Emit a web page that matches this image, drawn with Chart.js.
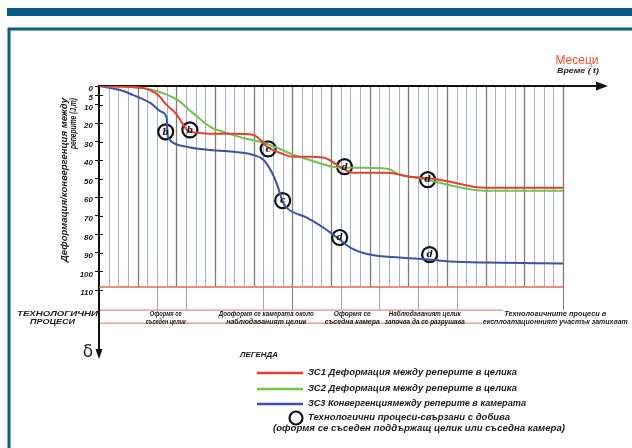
<!DOCTYPE html>
<html>
<head>
<meta charset="utf-8">
<script src="https://cdn.jsdelivr.net/npm/chart.js@4/dist/chart.umd.min.js"></script>
<style>
  html, body { margin: 0; padding: 0; background: #fff; }
  #wrap { width: 632px; height: 448px; position: relative; }
</style>
</head>
<body>
<div id="wrap"><canvas id="c" width="632" height="448"></canvas></div>
<script>
// Time axis: months, grid every month, heavier line every 4th
const monthCount = 48;
const yTicks = [0, 5, 10, 20, 30, 40, 50, 60, 70, 80, 90, 100, 110];
const yMax = 110;
const bandLimit = 108.4;

// ЗС1 – deformation between benchmarks in the pillar (red)
const zs1Months = [0, 4.5, 6.1, 7.0, 7.9, 8.6, 9.1, 10.4, 12.2, 13.9, 15.9, 16.7, 17.4, 18.7, 20.1, 22.1, 23.6, 24.6, 26.3, 29.8, 32.2, 34.6, 36.3, 38.7, 40.1, 48];
const zs1Values = [0, 1.1, 4.8, 10.2, 14.5, 19.9, 23.7, 25.3, 25.8, 25.8, 26.3, 29.0, 32.8, 36.0, 38.2, 38.2, 39.2, 42.5, 46.8, 46.8, 48.9, 50.0, 51.6, 54.3, 54.8, 54.8];

// ЗС2 – deformation between benchmarks in the pillar (green)
const zs2Months = [0, 4.5, 6.3, 8.1, 9.7, 11.5, 13.2, 14.9, 16.7, 18.4, 20.1, 22.1, 24.2, 26.3, 29.8, 31.1, 32.9, 35.3, 37.0, 38.7, 40.1, 48];
const zs2Values = [0, 1.1, 3.2, 7.5, 14.5, 22.0, 25.3, 28.0, 30.1, 33.3, 37.1, 40.4, 43.5, 44.1, 44.6, 47.8, 49.5, 52.2, 54.3, 55.9, 56.5, 56.5];

// ЗС3 – convergence between benchmarks in the chamber (blue)
const zs3Months = [0, 2.2, 3.5, 5.3, 6.5, 7.0, 7.1, 7.3, 9.1, 11.2, 13.9, 15.9, 17.0, 17.9, 18.5, 19.0, 19.4, 21.5, 23.2, 24.2, 24.9, 26.0, 28.0, 31.1, 34.0, 36.3, 40.1, 48];
const zs3Values = [0, 2.2, 4.8, 9.1, 14.0, 17.2, 26.3, 29.0, 32.8, 34.4, 35.5, 37.1, 39.8, 46.8, 54.3, 62.4, 65.6, 71.0, 76.3, 80.1, 82.8, 87.1, 90.9, 92.5, 93.5, 94.6, 95.2, 95.7];

// Mining events marked on the curves
const eventMonths = [6.9, 9.4, 17.5, 19.0, 25.4, 24.9, 34.0, 34.2];
const eventValues = [24.7, 23.7, 33.9, 61.8, 43.5, 81.7, 50.5, 90.9];
const eventLetters = ['b', 'b', 'c', 'c', 'd', 'd', 'd', 'd'];

// Technological processes strip
const processLineMonths = [6, 9, 17, 20, 25, 29, 33, 37, 48];
const processCentreMonths = [6.9, 17.3, 26.2, 33.7, 47.2];
const processLabels = [
  ['Оформя се', 'съседен целик'],
  ['Дооформя се камерата около', 'наблюдаваният целик'],
  ['Оформя се', 'съседна камера'],
  ['Наблюдаваният целик', 'започва да се разрушава'],
  ['Технологичните процеси в', 'експлоатационният участък затихват']
];
const processWidths = [[32, 40], [95, 80], [37, 55], [72, 80], [102, 145]];

const legendLabels = [
  'ЗС1 Деформация между реперите в целика',
  'ЗС2 Деформация между реперите в целика',
  'ЗС3 Конвергенциямежду реперите в камерата'
];

const RED = '#e5402c', GREEN = '#72c24c', BLUE = '#3b52a6';
const FONT = '"Liberation Sans", Arial, sans-serif';

function pts(xs, ys) { return xs.map((x, i) => ({ x: x, y: ys[i] })); }

// draw text stretched/condensed to a given width
function fitText(ctx, str, x, y, width, font, align, color) {
  ctx.save();
  ctx.font = font;
  ctx.fillStyle = color || '#1a1a1a';
  ctx.textBaseline = 'middle';
  const w = ctx.measureText(str).width;
  const sx = width / w;
  ctx.translate(x, y);
  ctx.scale(sx, 1);
  ctx.textAlign = align || 'center';
  ctx.fillText(str, 0, 0);
  ctx.restore();
}

const decor = {
  id: 'decor',
  beforeDraw(chart) {
    const ctx = chart.ctx;
    ctx.save();
    ctx.fillStyle = '#fff';
    ctx.fillRect(0, 0, chart.width, chart.height);
    // header bar and frame
    ctx.fillStyle = '#065b86';
    ctx.fillRect(7, 8, 625, 8);
    ctx.strokeStyle = '#0b5e8c';
    ctx.lineWidth = 3;
    ctx.beginPath();
    ctx.moveTo(9, 448); ctx.lineTo(9, 29); ctx.lineTo(632, 29);
    ctx.stroke();
    ctx.restore();
  },
  beforeDatasetsDraw(chart) {
    const ctx = chart.ctx, xs = chart.scales.x, ys = chart.scales.y, a = chart.chartArea;
    const redY = ys.getPixelForValue(bandLimit);
    const bandTop = redY + 23, bandBottom = redY + 36;
    ctx.save();
    // vertical month grid
    for (let m = 1; m <= monthCount; m++) {
      const px = Math.round(xs.getPixelForValue(m)) + 0.5;
      const heavy = m % 4 === 0;
      ctx.strokeStyle = heavy ? '#7c7c80' : '#a4aee0';
      ctx.lineWidth = heavy ? 1.3 : 1;
      ctx.beginPath(); ctx.moveTo(px, a.top); ctx.lineTo(px, redY); ctx.stroke();
    }
    // process strip dividers
    processLineMonths.forEach(m => {
      const px = Math.round(xs.getPixelForValue(m)) + 0.5;
      ctx.strokeStyle = m % 4 === 0 ? '#7c7c80' : '#9aa4da';
      ctx.lineWidth = 1;
      ctx.beginPath(); ctx.moveTo(px, redY); ctx.lineTo(px, bandTop); ctx.stroke();
    });
    // strip borders
    ctx.strokeStyle = '#e8644f';
    ctx.lineWidth = 1.6;
    ctx.beginPath(); ctx.moveTo(a.left, redY); ctx.lineTo(xs.getPixelForValue(monthCount), redY); ctx.stroke();
    ctx.strokeStyle = '#ee8a7b';
    ctx.lineWidth = 1.2;
    ctx.beginPath(); ctx.moveTo(a.left, bandTop); ctx.lineTo(503, bandTop); ctx.stroke();
    ctx.beginPath(); ctx.moveTo(a.left, bandBottom); ctx.lineTo(482, bandBottom); ctx.stroke();
    // time axis with arrow
    ctx.strokeStyle = '#111'; ctx.fillStyle = '#111';
    ctx.lineWidth = 2;
    ctx.beginPath(); ctx.moveTo(a.left, a.top); ctx.lineTo(599, a.top); ctx.stroke();
    ctx.beginPath(); ctx.moveTo(608, a.top); ctx.lineTo(596, a.top - 4.5); ctx.lineTo(596, a.top + 4.5); ctx.closePath(); ctx.fill();
    // deformation axis continues down with arrow
    ctx.beginPath(); ctx.moveTo(a.left, a.bottom); ctx.lineTo(a.left, 351); ctx.stroke();
    ctx.beginPath(); ctx.moveTo(a.left, 359); ctx.lineTo(a.left - 3.5, 349); ctx.lineTo(a.left + 3.5, 349); ctx.closePath(); ctx.fill();
    // inner half of tick marks
    ctx.lineWidth = 1;
    yTicks.forEach(v => {
      const py = Math.round(ys.getPixelForValue(v)) + 0.5;
      if (v === 0) return;
      ctx.beginPath(); ctx.moveTo(a.left, py); ctx.lineTo(a.left + 4, py); ctx.stroke();
    });
    ctx.restore();
  },
  afterDatasetsDraw(chart) {
    const ctx = chart.ctx;
    const meta = chart.getDatasetMeta(3);
    ctx.save();
    ctx.fillStyle = '#111';
    ctx.font = 'italic bold 9px "DejaVu Serif", serif';
    ctx.textAlign = 'center';
    ctx.textBaseline = 'middle';
    meta.data.forEach((p, i) => ctx.fillText(eventLetters[i], p.x, p.y + 0.5));
    ctx.restore();
  },
  afterDraw(chart) {
    const ctx = chart.ctx, xs = chart.scales.x, ys = chart.scales.y;
    const redY = ys.getPixelForValue(bandLimit);
    const bi = 'italic bold 8px ' + FONT;

    // time axis caption
    fitText(ctx, 'Месеци', 577, 60, 43, '13px ' + FONT, 'center', '#e8502e');
    fitText(ctx, 'Време ( t)', 578, 71, 42, bi, 'center', '#1a1a1a');

    // deformation axis caption
    ctx.save();
    ctx.translate(64.5, 98);
    ctx.rotate(-Math.PI / 2);
    fitText(ctx, 'Деформация/конвергенция между', 0, 0, 164, 'italic bold 9px ' + FONT, 'right', '#1a1a1a');
    ctx.restore();
    ctx.save();
    ctx.translate(73.5, 98);
    ctx.rotate(-Math.PI / 2);
    fitText(ctx, 'реперите (J,m)', 0, 0, 51, 'italic bold 9px ' + FONT, 'right', '#1a1a1a');
    ctx.restore();

    // δ
    ctx.save();
    ctx.fillStyle = '#222';
    ctx.font = '17px "DejaVu Sans", sans-serif';
    ctx.textAlign = 'center';
    ctx.textBaseline = 'middle';
    ctx.fillText('δ', 88, 353);
    ctx.restore();

    // process strip texts
    fitText(ctx, 'ТЕХНОЛОГИЧНИ', 57.5, redY + 27, 81, bi);
    fitText(ctx, 'ПРОЦЕСИ', 52.5, redY + 35, 45, bi);
    processLabels.forEach((lines, i) => {
      const cx = xs.getPixelForValue(processCentreMonths[i]);
      fitText(ctx, lines[0], cx, redY + 27, processWidths[i][0], 'italic bold 7px ' + FONT);
      fitText(ctx, lines[1], cx, redY + 35, processWidths[i][1], 'italic bold 7px ' + FONT);
    });

    // legend
    fitText(ctx, 'ЛЕГЕНДА', 240, 355, 38, bi, 'left');
    const colors = [RED, GREEN, BLUE];
    const ly = [373, 389, 404];
    const lw = [209, 209, 218];
    ctx.save();
    ctx.lineWidth = 2.5;
    colors.forEach((c, i) => {
      ctx.strokeStyle = c;
      ctx.beginPath(); ctx.moveTo(257, ly[i]); ctx.lineTo(303, ly[i]); ctx.stroke();
      fitText(ctx, legendLabels[i], 308, ly[i], lw[i], 'italic bold 9px ' + FONT, 'left');
    });
    ctx.strokeStyle = '#111';
    ctx.lineWidth = 2.2;
    ctx.beginPath(); ctx.arc(296, 418, 6.5, 0, Math.PI * 2); ctx.stroke();
    ctx.restore();
    fitText(ctx, 'Технологични процеси-свързани с добива', 308, 418, 202, 'italic bold 9px ' + FONT, 'left');
    fitText(ctx, '(оформя се съседен поддържащ целик или съседна камера)', 273, 429, 292, 'italic bold 9px ' + FONT, 'left');
  }
};

const lineDs = (label, xs, ys, color) => ({
  type: 'line',
  label: label,
  data: pts(xs, ys),
  borderColor: color,
  backgroundColor: color,
  borderWidth: 2,
  pointRadius: 0,
  cubicInterpolationMode: 'monotone',
  fill: false
});

new Chart(document.getElementById('c'), {
  type: 'line',
  data: {
    datasets: [
      lineDs('ЗС1', zs1Months, zs1Values, RED),
      lineDs('ЗС2', zs2Months, zs2Values, GREEN),
      lineDs('ЗС3', zs3Months, zs3Values, BLUE),
      {
        type: 'scatter',
        label: 'events',
        data: pts(eventMonths, eventValues),
        pointRadius: 7.5,
        pointBorderWidth: 2.2,
        pointBorderColor: '#111',
        pointBackgroundColor: 'rgba(255,255,255,0)',
        showLine: false
      }
    ]
  },
  options: {
    responsive: false,
    devicePixelRatio: 1,
    animation: false,
    layout: { padding: { left: 59, top: 86, right: 69, bottom: 158 } },
    plugins: { legend: { display: false }, tooltip: { enabled: false } },
    scales: {
      x: { type: 'linear', min: 0, max: monthCount, display: false },
      y: {
        type: 'linear',
        reverse: true,
        min: 0,
        max: yMax,
        afterFit(scale) { scale.width = 40; },
        afterBuildTicks(scale) { scale.ticks = yTicks.map(v => ({ value: v })); },
        ticks: {
          color: '#1a1a1a',
          font: { family: FONT, size: 8, style: 'italic', weight: 'bold' },
          padding: 2,
          labelOffset: 3,
          callback: v => String(v)
        },
        grid: { drawOnChartArea: false, drawTicks: true, tickLength: 4, color: '#111', lineWidth: 1 },
        border: { display: true, color: '#111', width: 2 }
      }
    }
  },
  plugins: [decor]
});
</script>
</body>
</html>
